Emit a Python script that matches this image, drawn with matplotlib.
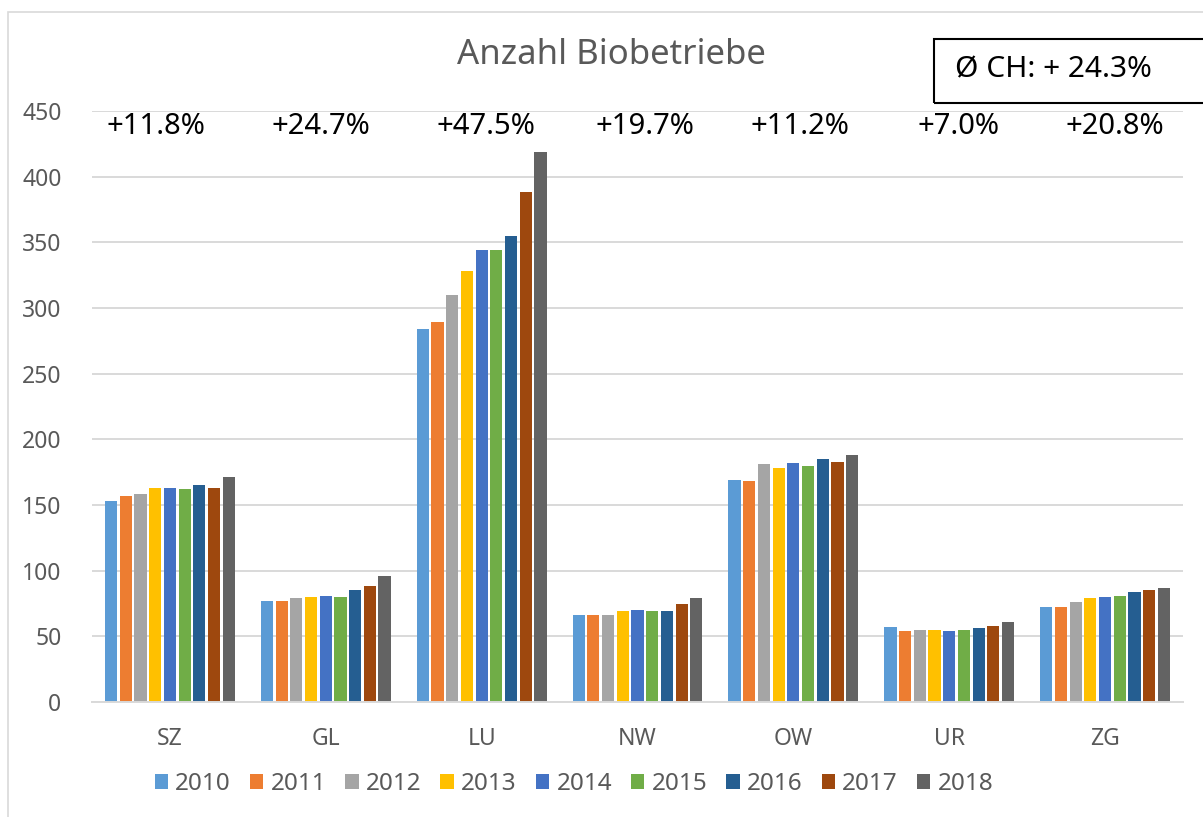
import matplotlib
matplotlib.use("Agg")
import matplotlib.pyplot as plt
from matplotlib.patches import Rectangle
import numpy as np

plt.rcParams["font.family"] = ["Noto Sans", "DejaVu Sans"]

cantons = ["SZ", "GL", "LU", "NW", "OW", "UR", "ZG"]
years = ["2010", "2011", "2012", "2013", "2014", "2015", "2016", "2017", "2018"]
growth = ["+11.8%", "+24.7%", "+47.5%", "+19.7%", "+11.2%", "+7.0%", "+20.8%"]

# farms per canton, one list per year (order as cantons)
v2010 = [153, 77, 284, 66, 169, 57, 72]
v2011 = [157, 77, 289, 66, 168, 54, 72]
v2012 = [158, 79, 310, 66, 181, 55, 76]
v2013 = [163, 80, 328, 69, 178, 55, 79]
v2014 = [163, 81, 344, 70, 182, 54, 80]
v2015 = [162, 80, 344, 69, 180, 55, 81]
v2016 = [165, 85, 355, 69, 185, 56, 84]
v2017 = [163, 88, 388, 75, 183, 58, 85]
v2018 = [171, 96, 419, 79, 188, 61, 87]
series = [v2010, v2011, v2012, v2013, v2014, v2015, v2016, v2017, v2018]

colors = ["#5B9BD5", "#ED7D31", "#A5A5A5", "#FFC000", "#4472C4",
          "#70AD47", "#255E91", "#9E480E", "#636363"]

# small horizontal nudges of the growth labels (in category units)
label_dx = [-0.09, -0.03, 0.03, 0.05, 0.04, 0.06, 0.06]

fig = plt.figure(figsize=(12.03, 8.17), dpi=100)
ax = fig.add_axes([92 / 1203, 1 - 702 / 817, 1091 / 1203, 591 / 817])

x = np.arange(len(cantons))
pitch = 0.0943
for i, (vals, col) in enumerate(zip(series, colors)):
    ax.bar(x + (i - 4) * pitch, vals, width=0.078, color=col,
           label=years[i], zorder=3)

ax.set_xlim(-0.5, len(cantons) - 0.5)
ax.set_ylim(0, 450)
ax.set_yticks(np.arange(0, 451, 50))
ax.yaxis.grid(True, color="#d9d9d9", lw=1.4, zorder=0)
ax.set_axisbelow(True)
for s in ["top", "right", "left"]:
    ax.spines[s].set_visible(False)
ax.spines["bottom"].set_color("#d9d9d9")
ax.spines["bottom"].set_linewidth(1.4)
ax.spines["bottom"].set_zorder(4)
ax.set_xticks(x)
ax.set_xticklabels(cantons)
ax.tick_params(axis="both", length=0, labelsize=16.5, colors="#595959")
ax.tick_params(axis="x", pad=18)
ax.tick_params(axis="y", pad=22)

for xi, g, dx in zip(x, growth, label_dx):
    ax.text(xi + dx, 438, g, ha="center", va="center", fontsize=21,
            color="black")

fig.text(611 / 1203, 1 - 55 / 817, "Anzahl Biobetriebe", ha="center",
         va="center", fontsize=25, color="#595959")

# outer chart border
fig.patches.append(Rectangle((8 / 1203, -0.05), 1.1, 1 - 12 / 817 + 0.05,
                             transform=fig.transFigure, fill=False,
                             edgecolor="#d9d9d9", lw=1.2))
# average box
fig.patches.append(Rectangle((934 / 1203, 1 - 103 / 817), 0.3, 64 / 817,
                             transform=fig.transFigure, fill=False,
                             edgecolor="black", lw=1.5))
fig.text(955 / 1203, 1 - 70 / 817, "Ø CH: + 24.3%", ha="left", va="center",
         fontsize=21.5, color="black")

leg = fig.legend(loc="center", bbox_to_anchor=(574 / 1203, 1 - 784 / 817),
                 ncol=9, frameon=False, fontsize=17.5, handlelength=0.55,
                 handleheight=0.55, handletextpad=0.3, columnspacing=0.78)
for t in leg.get_texts():
    t.set_color("#595959")

fig.savefig("out.png", dpi=100)
